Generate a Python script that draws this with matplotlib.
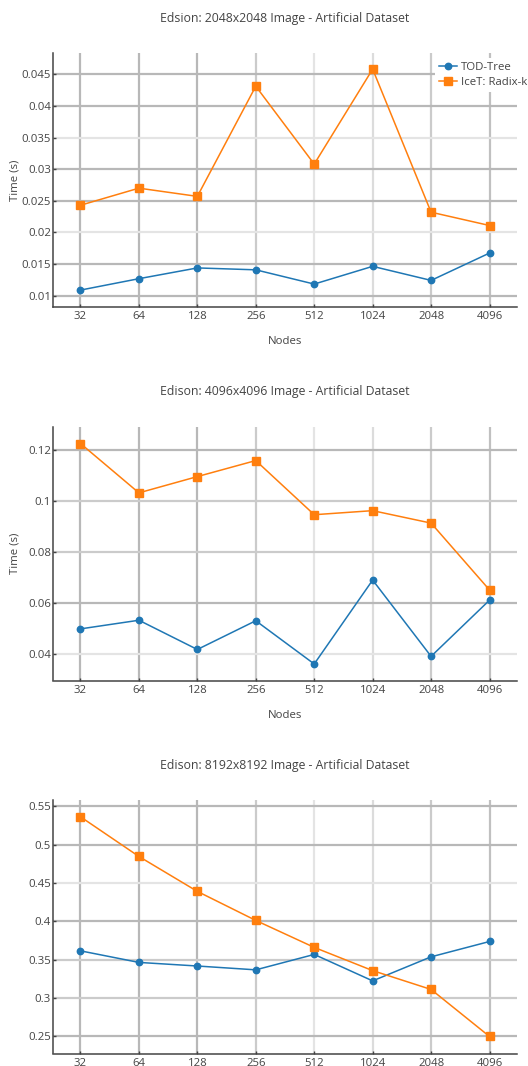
import matplotlib
matplotlib.use("Agg")
import matplotlib.pyplot as plt
from matplotlib.ticker import FuncFormatter

# Data
nodes = ["32", "64", "128", "256", "512", "1024", "2048", "4096"]

titles = [
    "Edsion: 2048x2048 Image - Artificial Dataset",
    "Edison: 4096x4096 Image - Artificial Dataset",
    "Edison: 8192x8192 Image - Artificial Dataset",
]

tod_2048 = [0.0109, 0.0127, 0.0144, 0.0141, 0.01185, 0.01465, 0.01243, 0.01675]
icet_2048 = [0.0243, 0.0270, 0.0257, 0.0431, 0.0308, 0.0458, 0.0232, 0.0211]

tod_4096 = [0.0497, 0.0531, 0.0416, 0.0529, 0.0359, 0.0689, 0.0389, 0.0610]
icet_4096 = [0.1226, 0.1032, 0.1096, 0.1159, 0.0946, 0.0962, 0.0913, 0.0650]

tod_8192 = [0.3614, 0.3463, 0.3416, 0.3366, 0.3567, 0.3222, 0.3536, 0.3736]
icet_8192 = [0.5364, 0.4846, 0.4390, 0.4011, 0.3659, 0.3356, 0.3110, 0.2496]

yticks_2048 = [0.01, 0.015, 0.02, 0.025, 0.03, 0.035, 0.04, 0.045]
yticks_4096 = [0.04, 0.06, 0.08, 0.1, 0.12]
yticks_8192 = [0.25, 0.3, 0.35, 0.4, 0.45, 0.5, 0.55]

# Styling
W, H = 528, 1066
BLUE = "#1f77b4"
ORANGE = "#ff7f0e"
TEXT = "#444444"
DARK, MED, LIGHT = "#b8b8b8", "#cbcbcb", "#e4e4e4"
VGRID = [DARK, DARK, DARK, MED, LIGHT, "#dcdcdc", MED, "#c0c0c0"]

plt.rcParams["font.family"] = ["Open Sans", "DejaVu Sans"]
plt.rcParams["text.color"] = TEXT
plt.rcParams["axes.labelcolor"] = TEXT
plt.rcParams["xtick.color"] = TEXT
plt.rcParams["ytick.color"] = TEXT


def draw_panel(fig, top, title, tod, icet, yticks, ylim, hgrid, labels=True):
    """Draw one subplot; top is the pixel row of the axes' upper edge."""
    left, right, height = 53, 517, 253.5
    ax = fig.add_axes([left / W, 1 - (top + height) / H, (right - left) / W, height / H])
    x = list(range(len(nodes)))

    ax.plot(x, tod, color=BLUE, lw=1.1, marker="o", ms=4.6, label="TOD-Tree", zorder=3)
    ax.plot(x, icet, color=ORANGE, lw=1.1, marker="s", ms=5.2, label="IceT: Radix-k", zorder=3)

    ax.set_xlim(-0.47, 7.47)
    ax.set_ylim(*ylim)
    ax.set_xticks(x)
    ax.set_xticklabels(nodes)
    ax.set_yticks(yticks)
    ax.yaxis.set_major_formatter(FuncFormatter(lambda v, p: f"{v:g}"))

    ax.grid(True, lw=1.6)
    for line, c in zip(ax.get_xgridlines(), VGRID):
        line.set_color(c)
    for line, c in zip(ax.get_ygridlines(), hgrid):
        line.set_color(c)
    ax.set_axisbelow(True)

    for s in ("top", "right"):
        ax.spines[s].set_visible(False)
    for s in ("left", "bottom"):
        ax.spines[s].set_color(TEXT)
        ax.spines[s].set_linewidth(1.1)
    ax.tick_params(direction="in", length=2.5, width=1, labelsize=8.2)
    ax.tick_params(axis="y", pad=1.5)
    ax.tick_params(axis="x", pad=3)

    fig.text((left + right) / 2 / W, 1 - (top - 35) / H, title,
             ha="center", va="center", fontsize=8.8)
    if labels:
        ax.set_ylabel("Time (s)", fontsize=8.2)
        ax.yaxis.set_label_coords(-38 / (right - left), 0.5)
        ax.yaxis.label.set_va("center")
        ax.set_xlabel("Nodes", fontsize=8.2)
        ax.xaxis.set_label_coords(0.5, -35 / height)
        ax.xaxis.label.set_va("center")
    return ax


def plot_all():
    fig = plt.figure(figsize=(W / 100, H / 100), dpi=100)

    ax1 = draw_panel(fig, 53.3, titles[0], tod_2048, icet_2048, yticks_2048,
                     (0.00826, 0.0483), [DARK, DARK, LIGHT, DARK, DARK, LIGHT, DARK, DARK])
    draw_panel(fig, 427, titles[1], tod_4096, icet_4096, yticks_4096,
               (0.0294, 0.1291), [LIGHT, DARK, MED, MED, DARK])
    draw_panel(fig, 800, titles[2], tod_8192, icet_8192, yticks_8192,
               (0.2274, 0.5583), [DARK, MED, MED, DARK, LIGHT, DARK, DARK], labels=False)

    handles, labels = ax1.get_legend_handles_labels()
    leg = fig.legend(handles, labels, loc="upper left",
                     bbox_to_anchor=(435 / W, 1 - 58 / H), fontsize=8.2,
                     frameon=True, facecolor="white", edgecolor="none", framealpha=1,
                     handlelength=1.6, handletextpad=0.35, borderpad=0.35,
                     labelspacing=0.35, borderaxespad=0, fancybox=False)
    leg.get_frame().set_linewidth(0)

    fig.savefig("out.png", dpi=100)


if __name__ == "__main__":
    plot_all()
